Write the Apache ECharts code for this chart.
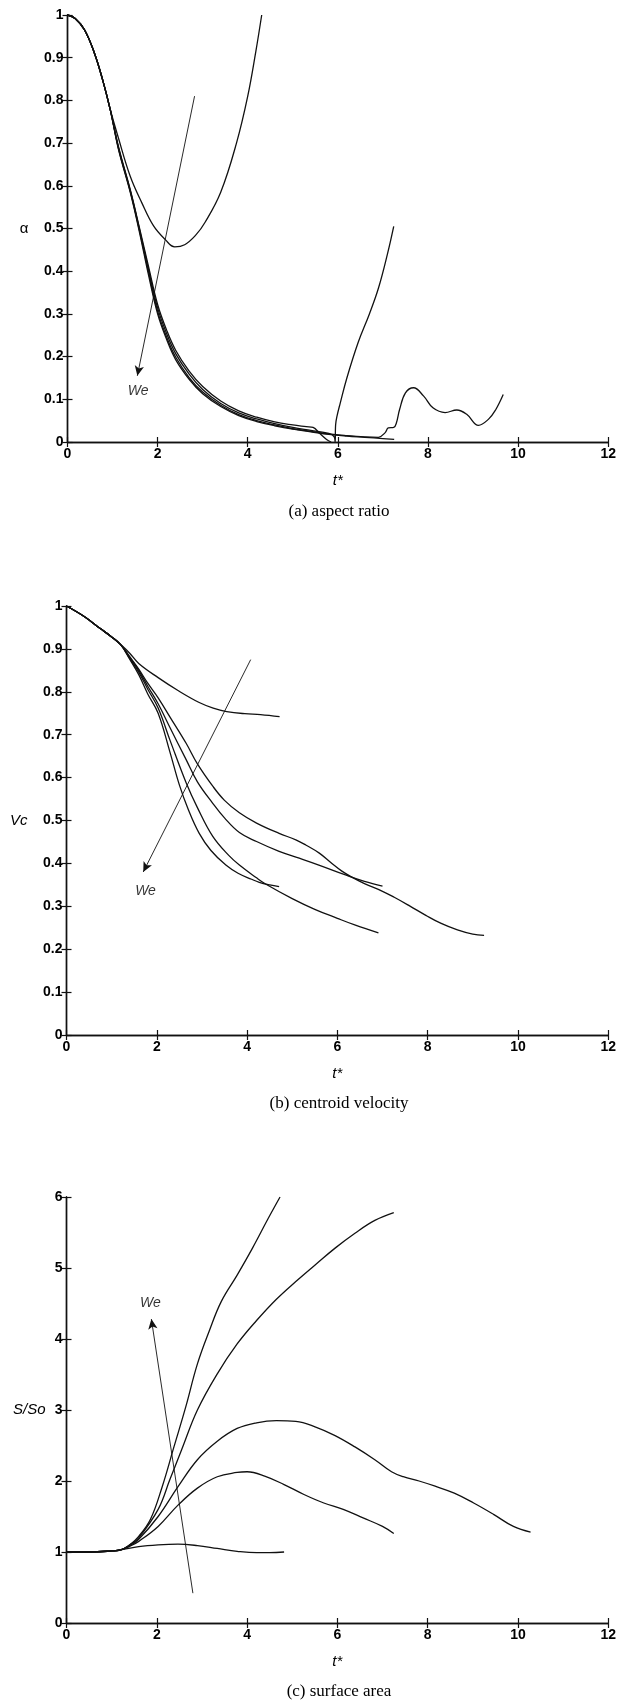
<!DOCTYPE html>
<html>
<head>
<meta charset="utf-8">
<script src="https://cdn.jsdelivr.net/npm/echarts@6/dist/echarts.min.js"></script>
<style>
html,body{margin:0;padding:0;background:#fff;}
#chart{width:619px;height:1702px;}
</style>
</head>
<body>
<div id="chart"></div>
<script>
// ---------- tick labels / axes ----------
const xTicks = [0, 2, 4, 6, 8, 10, 12];
const captions = ['(a) aspect ratio', '(b) centroid velocity', '(c) surface area'];
const yNames = ['α', 'Vc', 'S/So'];
const yMax = [1, 1, 6];
const yStep = [0.1, 0.1, 1];

// ---------- (a) aspect ratio ----------
const aStart = [[0,1],[0.17,0.992],[0.38,0.965],[0.6,0.91],[0.78,0.848],[0.95,0.778]];
const a1 = [[1.13,0.712],[1.39,0.623],[1.65,0.56],[1.91,0.506],[2.17,0.474],[2.38,0.457],[2.6,0.462],[2.85,0.485],[3.05,0.514],[3.4,0.585],[3.75,0.70],[4.0,0.81],[4.18,0.915],[4.31,1.0]];
const a2 = [[1.13,0.692],[1.4,0.588],[1.6,0.5],[1.8,0.41],[2.0,0.322],[2.2,0.262],[2.4,0.215],[2.7,0.166],[3.0,0.13],[3.4,0.096],[3.8,0.073],[4.2,0.058],[4.6,0.047],[5.0,0.04],[5.3,0.036],[5.45,0.034],[5.6,0.02],[5.75,0.006],[5.85,0.0]];
const a3 = [[1.13,0.69],[1.4,0.586],[1.6,0.497],[1.8,0.403],[2.0,0.314],[2.2,0.254],[2.4,0.207],[2.7,0.159],[3.0,0.123],[3.4,0.09],[3.8,0.068],[4.2,0.054],[4.6,0.043],[5.0,0.034],[5.4,0.027],[5.8,0.02],[5.92,0.012],[5.94,0.0],[5.95,0.04],[5.98,0.06],[6.05,0.09],[6.2,0.15],[6.45,0.233],[6.7,0.3],[6.9,0.36],[7.1,0.44],[7.24,0.505]];
const a4 = [[1.13,0.688],[1.4,0.584],[1.6,0.494],[1.8,0.397],[2.0,0.306],[2.2,0.246],[2.4,0.199],[2.7,0.151],[3.0,0.117],[3.4,0.086],[3.8,0.064],[4.2,0.05],[4.6,0.04],[5.0,0.031],[5.4,0.025],[5.8,0.019],[6.2,0.015],[6.6,0.012],[6.9,0.011],[7.05,0.022],[7.12,0.033],[7.24,0.034],[7.3,0.045],[7.37,0.076],[7.5,0.115],[7.68,0.127],[7.9,0.108],[8.11,0.08],[8.38,0.069],[8.64,0.075],[8.86,0.065],[9.12,0.039],[9.34,0.053],[9.5,0.075],[9.67,0.111]];
const a5 = [[1.13,0.686],[1.4,0.582],[1.6,0.49],[1.8,0.39],[2.0,0.3],[2.2,0.24],[2.4,0.193],[2.7,0.147],[3.0,0.113],[3.4,0.083],[3.8,0.062],[4.2,0.048],[4.6,0.038],[5.0,0.03],[5.4,0.024],[5.8,0.018],[6.2,0.014],[6.6,0.011],[7.0,0.008],[7.25,0.006]];
const aArrow = [[2.82,0.81],[1.55,0.155]];
const aLabel = [1.57,0.12];

// ---------- (b) centroid velocity ----------
const bStart = [[0,1],[0.4,0.975],[0.74,0.948],[1.0,0.928],[1.2,0.91]];
const b1 = [[1.4,0.89],[1.6,0.866],[2.03,0.833],[2.47,0.803],[2.94,0.775],[3.25,0.762],[3.55,0.754],[3.95,0.749],[4.3,0.747],[4.72,0.742]];
const b2 = [[1.4,0.882],[1.6,0.853],[1.8,0.82],[2.03,0.786],[2.3,0.74],[2.65,0.68],[2.9,0.632],[3.24,0.58],[3.5,0.547],[3.83,0.518],[4.21,0.494],[4.71,0.47],[5.08,0.455],[5.3,0.443],[5.6,0.424],[5.88,0.4],[6.1,0.382],[6.32,0.368],[6.6,0.353],[7.0,0.335],[7.26,0.321],[7.6,0.301],[7.96,0.279],[8.3,0.26],[8.66,0.245],[9.0,0.235],[9.25,0.232]];
const b3 = [[1.4,0.88],[1.6,0.85],[1.8,0.813],[2.03,0.772],[2.3,0.715],[2.65,0.642],[2.9,0.59],[3.24,0.54],[3.5,0.506],[3.83,0.472],[4.21,0.451],[4.71,0.428],[5.1,0.414],[5.59,0.396],[6.18,0.373],[6.6,0.358],[7.0,0.347]];
const b4 = [[1.4,0.878],[1.6,0.846],[1.8,0.806],[2.03,0.762],[2.3,0.685],[2.65,0.588],[2.9,0.53],[3.24,0.463],[3.6,0.418],[3.83,0.396],[4.2,0.367],[4.41,0.352],[5.0,0.318],[5.5,0.293],[6.0,0.272],[6.4,0.256],[6.91,0.238]];
const b5 = [[1.4,0.876],[1.6,0.84],[1.8,0.795],[2.03,0.75],[2.29,0.66],[2.5,0.583],[2.7,0.525],[2.94,0.47],[3.2,0.43],[3.53,0.396],[3.8,0.377],[4.1,0.363],[4.27,0.356],[4.5,0.35],[4.71,0.346]];
const bArrow = [[4.08,0.875],[1.7,0.38]];
const bLabel = [1.75,0.335];

// ---------- (c) surface area ----------
const cStart = [[0,1],[0.5,1.0],[1.0,1.015],[1.2,1.03]];
const c1 = [[1.6,1.075],[2.03,1.1],[2.47,1.11],[2.9,1.09],[3.34,1.05],[3.78,1.01],[4.21,0.99],[4.5,0.99],[4.82,1.0]];
const c2 = [[1.4,1.08],[1.6,1.15],[2.03,1.36],[2.47,1.66],[2.9,1.9],[3.34,2.06],[3.78,2.12],[4.0,2.13],[4.39,2.07],[4.82,1.95],[5.26,1.81],[5.7,1.69],[6.13,1.6],[6.57,1.48],[7.0,1.36],[7.25,1.26]];
const c3 = [[1.4,1.09],[1.6,1.18],[2.03,1.5],[2.47,1.92],[2.9,2.3],[3.34,2.56],[3.78,2.74],[4.21,2.82],[4.65,2.85],[5.08,2.84],[5.52,2.76],[5.95,2.64],[6.39,2.48],[6.83,2.3],[7.2,2.13],[7.46,2.06],[7.81,2.0],[8.15,1.93],[8.59,1.83],[9.02,1.69],[9.46,1.53],[9.9,1.36],[10.28,1.28]];
const c4 = [[1.4,1.1],[1.6,1.2],[2.03,1.6],[2.29,2.02],[2.55,2.44],[2.9,3.0],[3.34,3.51],[3.78,3.93],[4.21,4.26],[4.65,4.56],[5.08,4.81],[5.52,5.05],[5.95,5.28],[6.39,5.49],[6.83,5.67],[7.25,5.78]];
const c5 = [[1.4,1.1],[1.6,1.22],[1.86,1.46],[2.12,1.92],[2.38,2.48],[2.64,3.04],[2.9,3.65],[3.16,4.11],[3.43,4.53],[3.78,4.9],[4.12,5.28],[4.47,5.7],[4.73,6.0]];
const cArrow = [[2.8,0.42],[1.88,4.28]];
const cLabel = [1.86,4.5];

// ---------- build ----------
const panels = [
  {start: aStart, curves: [a1,a2,a3,a4,a5], arrow: aArrow, label: aLabel},
  {start: bStart, curves: [b1,b2,b3,b4,b5], arrow: bArrow, label: bLabel},
  {start: cStart, curves: [c1,c2,c3,c4,c5], arrow: cArrow, label: cLabel}
];

const gridPos = [
  {left: 67.5, right: 8.5, top: 15, height: 427},
  {left: 66.5, right: 8.5, top: 606, height: 429},
  {left: 66.5, right: 8.5, top: 1197, height: 426}
];
const captionTop = [503, 1095, 1683];
const yNameGap = [39, 39, 21];

const FONT = '"Liberation Sans", Arial, Helvetica, sans-serif';
const lineCol = '#111';
const axisLineStyle = {lineStyle: {color: '#111', width: 1.4}};
const tickStyle = {show: true, inside: true, length: 5, lineStyle: {color: '#111', width: 1.2}};
const labelStyle = {color: '#000', fontFamily: FONT, fontSize: 14, fontWeight: 'bold'};

const xAxis = [], yAxis = [], series = [], title = [];
for (let i = 0; i < 3; i++) {
  xAxis.push({
    gridIndex: i, type: 'value', min: xTicks[0], max: xTicks[xTicks.length-1], interval: xTicks[1]-xTicks[0],
    position: 'bottom', axisLine: axisLineStyle, axisTick: tickStyle, splitLine: {show: false},
    axisLabel: Object.assign({margin: 5}, labelStyle),
    name: 't*', nameLocation: 'middle', nameGap: 31,
    nameTextStyle: {color: '#000', fontFamily: FONT, fontSize: 15, fontStyle: 'italic'}
  });
  yAxis.push({
    gridIndex: i, type: 'value', min: 0, max: yMax[i], interval: yStep[i],
    position: 'left', axisLine: axisLineStyle, axisTick: tickStyle, splitLine: {show: false},
    axisLabel: Object.assign({margin: 4}, labelStyle),
    name: yNames[i], nameLocation: 'middle', nameRotate: 0, nameGap: yNameGap[i],
    nameTextStyle: {color: '#000', fontFamily: FONT, fontSize: 15, fontStyle: i === 0 ? 'normal' : 'italic'}
  });
  title.push({
    text: captions[i], left: 339, top: captionTop[i], textAlign: 'center', padding: 0,
    textStyle: {color: '#000', fontFamily: '"Liberation Serif", "Times New Roman", serif', fontSize: 17, fontWeight: 'normal'}
  });
}
for (let i = 0; i < 3; i++) {
  xAxis.push({
    gridIndex: i, type: 'value', min: xTicks[0], max: xTicks[xTicks.length-1], interval: xTicks[1]-xTicks[0],
    position: 'top', axisLine: axisLineStyle, axisTick: tickStyle, axisLabel: {show: false}, splitLine: {show: false}
  });
  yAxis.push({
    gridIndex: i, type: 'value', min: 0, max: yMax[i], interval: yStep[i],
    position: 'right', axisLine: axisLineStyle, axisTick: tickStyle, axisLabel: {show: false}, splitLine: {show: false}
  });
}

panels.forEach((p, i) => {
  p.curves.forEach(c => {
    series.push({
      type: 'line', xAxisIndex: i, yAxisIndex: i, data: p.start.concat(c),
      showSymbol: false, smooth: 0.4, silent: true,
      lineStyle: {color: lineCol, width: 1.3}
    });
  });
  series.push({
    type: 'line', xAxisIndex: i, yAxisIndex: i, data: [], silent: true,
    markLine: {
      silent: true, symbol: ['none', 'arrow'], symbolSize: [7, 10],
      label: {show: false},
      lineStyle: {color: '#111', width: 0.9, type: 'solid'},
      emphasis: {disabled: true},
      data: [[{coord: p.arrow[0]}, {coord: p.arrow[1]}]]
    }
  });
  series.push({
    type: 'scatter', xAxisIndex: i, yAxisIndex: i, data: [p.label], symbolSize: 0, silent: true,
    label: {show: true, position: 'inside', formatter: 'We', color: '#000', fontFamily: FONT, fontSize: 14, fontStyle: 'italic'}
  });
});

const chart = echarts.init(document.getElementById('chart'), null, {renderer: 'canvas'});
chart.setOption({
  animation: false,
  backgroundColor: '#fff',
  title: title,
  grid: gridPos,
  xAxis: xAxis,
  yAxis: yAxis,
  series: series
});
</script>
</body>
</html>
